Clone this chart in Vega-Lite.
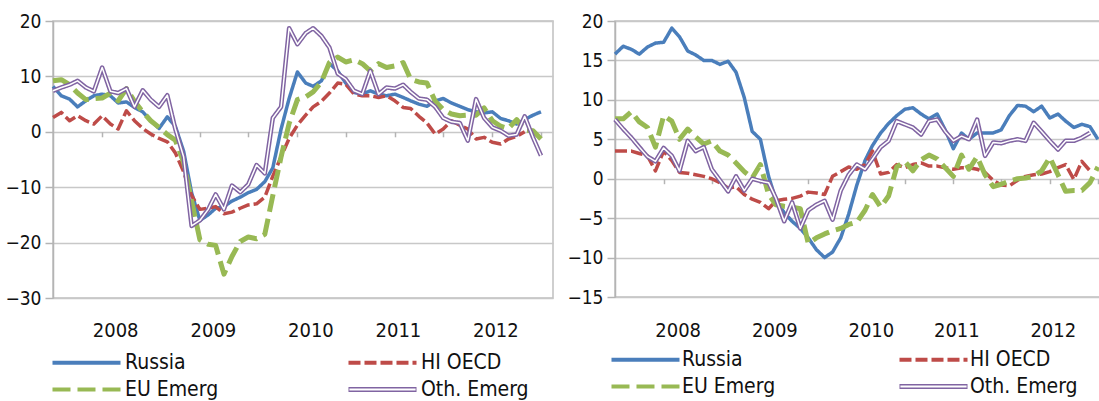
{
  "$schema": "https://vega.github.io/schema/vega-lite/v6.json",
  "padding": {"left": 4, "top": 11, "right": 2, "bottom": 0},
  "background": "white",
  "spacing": 12,
  "config": {
    "font": "DejaVu Sans Condensed",
    "view": {"stroke": "#c0c0c0", "strokeWidth": 1.5},
    "axis": {"title": null, "labelFont": "DejaVu Sans Condensed", "labelColor": "#111111"}
  },
  "datasets": {
    "L": [
      {"d": "2007-07-01", "Russia": 8.2, "HI OECD": 2.6, "EU Emerg": 9.2, "Oth Emerg": 7.4},
      {"d": "2007-08-01", "Russia": 6.5, "HI OECD": 3.5, "EU Emerg": 9.4, "Oth Emerg": 8.0},
      {"d": "2007-09-01", "Russia": 5.9, "HI OECD": 2.0, "EU Emerg": 8.5, "Oth Emerg": 8.5},
      {"d": "2007-10-01", "Russia": 4.5, "HI OECD": 2.9, "EU Emerg": 7.0, "Oth Emerg": 9.2},
      {"d": "2007-11-01", "Russia": 5.6, "HI OECD": 2.0, "EU Emerg": 5.8, "Oth Emerg": 8.0},
      {"d": "2007-12-01", "Russia": 6.5, "HI OECD": 1.4, "EU Emerg": 6.0, "Oth Emerg": 7.3},
      {"d": "2008-01-01", "Russia": 6.8, "HI OECD": 2.9, "EU Emerg": 6.1, "Oth Emerg": 11.6},
      {"d": "2008-02-01", "Russia": 6.5, "HI OECD": 1.4, "EU Emerg": 7.0, "Oth Emerg": 7.3},
      {"d": "2008-03-01", "Russia": 5.2, "HI OECD": 0.5, "EU Emerg": 5.6, "Oth Emerg": 7.0},
      {"d": "2008-04-01", "Russia": 5.4, "HI OECD": 3.8, "EU Emerg": 7.8, "Oth Emerg": 7.8},
      {"d": "2008-05-01", "Russia": 4.4, "HI OECD": 2.0, "EU Emerg": 5.5, "Oth Emerg": 4.5},
      {"d": "2008-06-01", "Russia": 3.6, "HI OECD": 0.6, "EU Emerg": 3.6, "Oth Emerg": 7.5},
      {"d": "2008-07-01", "Russia": 2.0, "HI OECD": -0.4, "EU Emerg": 2.0, "Oth Emerg": 5.8},
      {"d": "2008-08-01", "Russia": 0.6, "HI OECD": -1.2, "EU Emerg": 0.8, "Oth Emerg": 4.5},
      {"d": "2008-09-01", "Russia": 2.7, "HI OECD": -1.8, "EU Emerg": -0.5, "Oth Emerg": 6.6},
      {"d": "2008-10-01", "Russia": 1.0, "HI OECD": -3.8, "EU Emerg": -1.5, "Oth Emerg": 0.5},
      {"d": "2008-11-01", "Russia": -3.5, "HI OECD": -7.2, "EU Emerg": -5.5, "Oth Emerg": -4.5},
      {"d": "2008-12-01", "Russia": -11.0, "HI OECD": -11.5, "EU Emerg": -12.5, "Oth Emerg": -17.0},
      {"d": "2009-01-01", "Russia": -16.0, "HI OECD": -14.0, "EU Emerg": -19.5, "Oth Emerg": -16.0},
      {"d": "2009-02-01", "Russia": -15.0, "HI OECD": -13.8, "EU Emerg": -20.3, "Oth Emerg": -14.0},
      {"d": "2009-03-01", "Russia": -13.8, "HI OECD": -13.5, "EU Emerg": -20.5, "Oth Emerg": -11.3},
      {"d": "2009-04-01", "Russia": -13.5, "HI OECD": -14.8, "EU Emerg": -25.7, "Oth Emerg": -14.0},
      {"d": "2009-05-01", "Russia": -12.5, "HI OECD": -14.5, "EU Emerg": -22.5, "Oth Emerg": -9.7},
      {"d": "2009-06-01", "Russia": -11.8, "HI OECD": -13.8, "EU Emerg": -19.8, "Oth Emerg": -10.9},
      {"d": "2009-07-01", "Russia": -11.0, "HI OECD": -13.2, "EU Emerg": -19.0, "Oth Emerg": -9.5},
      {"d": "2009-08-01", "Russia": -10.4, "HI OECD": -13.0, "EU Emerg": -19.3, "Oth Emerg": -6.0},
      {"d": "2009-09-01", "Russia": -9.0, "HI OECD": -11.8, "EU Emerg": -18.5, "Oth Emerg": -7.5},
      {"d": "2009-10-01", "Russia": -6.5, "HI OECD": -8.0, "EU Emerg": -11.5, "Oth Emerg": 2.5},
      {"d": "2009-11-01", "Russia": 0.5, "HI OECD": -4.5, "EU Emerg": -4.5, "Oth Emerg": 4.5},
      {"d": "2009-12-01", "Russia": 6.0, "HI OECD": -1.2, "EU Emerg": 1.5, "Oth Emerg": 18.7},
      {"d": "2010-01-01", "Russia": 10.8, "HI OECD": 1.2, "EU Emerg": 5.8, "Oth Emerg": 15.8},
      {"d": "2010-02-01", "Russia": 8.8, "HI OECD": 3.0, "EU Emerg": 6.3, "Oth Emerg": 17.8},
      {"d": "2010-03-01", "Russia": 8.2, "HI OECD": 4.5, "EU Emerg": 7.2, "Oth Emerg": 18.7},
      {"d": "2010-04-01", "Russia": 9.2, "HI OECD": 5.5, "EU Emerg": 9.0, "Oth Emerg": 17.3},
      {"d": "2010-05-01", "Russia": 12.3, "HI OECD": 7.0, "EU Emerg": 12.5, "Oth Emerg": 15.2},
      {"d": "2010-06-01", "Russia": 11.0, "HI OECD": 8.8, "EU Emerg": 13.5, "Oth Emerg": 10.5},
      {"d": "2010-07-01", "Russia": 8.8, "HI OECD": 8.6, "EU Emerg": 12.6, "Oth Emerg": 9.5},
      {"d": "2010-08-01", "Russia": 7.1, "HI OECD": 6.8, "EU Emerg": 13.0, "Oth Emerg": 7.4},
      {"d": "2010-09-01", "Russia": 6.8, "HI OECD": 6.5, "EU Emerg": 12.3, "Oth Emerg": 6.8},
      {"d": "2010-10-01", "Russia": 7.4, "HI OECD": 6.5, "EU Emerg": 11.0, "Oth Emerg": 11.0},
      {"d": "2010-11-01", "Russia": 6.8, "HI OECD": 6.2, "EU Emerg": 12.3, "Oth Emerg": 6.8},
      {"d": "2010-12-01", "Russia": 6.5, "HI OECD": 6.5, "EU Emerg": 11.6, "Oth Emerg": 8.0},
      {"d": "2011-01-01", "Russia": 6.8, "HI OECD": 5.6, "EU Emerg": 11.9, "Oth Emerg": 7.8},
      {"d": "2011-02-01", "Russia": 6.2, "HI OECD": 4.4, "EU Emerg": 12.5, "Oth Emerg": 8.5},
      {"d": "2011-03-01", "Russia": 5.6, "HI OECD": 4.2, "EU Emerg": 9.5, "Oth Emerg": 7.2},
      {"d": "2011-04-01", "Russia": 5.0, "HI OECD": 2.8, "EU Emerg": 9.0, "Oth Emerg": 6.0},
      {"d": "2011-05-01", "Russia": 4.6, "HI OECD": 1.6, "EU Emerg": 8.8, "Oth Emerg": 5.8},
      {"d": "2011-06-01", "Russia": 5.6, "HI OECD": -0.4, "EU Emerg": 5.5, "Oth Emerg": 4.5},
      {"d": "2011-07-01", "Russia": 6.0, "HI OECD": 0.5, "EU Emerg": 4.0, "Oth Emerg": 2.5},
      {"d": "2011-08-01", "Russia": 5.2, "HI OECD": 2.0, "EU Emerg": 3.2, "Oth Emerg": 1.8},
      {"d": "2011-09-01", "Russia": 4.6, "HI OECD": 1.2, "EU Emerg": 2.9, "Oth Emerg": 1.6},
      {"d": "2011-10-01", "Russia": 4.0, "HI OECD": 0.5, "EU Emerg": 3.0, "Oth Emerg": -1.6},
      {"d": "2011-11-01", "Russia": 3.6, "HI OECD": -1.3, "EU Emerg": 3.0, "Oth Emerg": 5.9},
      {"d": "2011-12-01", "Russia": 3.4, "HI OECD": -1.0, "EU Emerg": 4.3, "Oth Emerg": 2.5},
      {"d": "2012-01-01", "Russia": 3.6, "HI OECD": -1.9, "EU Emerg": 2.0, "Oth Emerg": 0.8},
      {"d": "2012-02-01", "Russia": 2.4, "HI OECD": -2.2, "EU Emerg": 1.0, "Oth Emerg": 0.2},
      {"d": "2012-03-01", "Russia": 2.0, "HI OECD": -1.3, "EU Emerg": 0.6, "Oth Emerg": -0.7},
      {"d": "2012-04-01", "Russia": 1.4, "HI OECD": -0.8, "EU Emerg": 2.2, "Oth Emerg": -0.5},
      {"d": "2012-05-01", "Russia": 2.2, "HI OECD": 0.0, "EU Emerg": 0.3, "Oth Emerg": 2.8},
      {"d": "2012-06-01", "Russia": 3.0, "EU Emerg": 0.2, "Oth Emerg": -1.0},
      {"d": "2012-07-01", "Russia": 3.6, "EU Emerg": -1.3, "Oth Emerg": -4.3}
    ],
    "R": [
      {"d": "2007-07-01", "Russia": 15.8, "HI OECD": 3.5, "EU Emerg": 7.6, "Oth Emerg": 7.5},
      {"d": "2007-08-01", "Russia": 16.8, "HI OECD": 3.5, "EU Emerg": 7.6, "Oth Emerg": 6.3},
      {"d": "2007-09-01", "Russia": 16.4, "HI OECD": 3.5, "EU Emerg": 8.5, "Oth Emerg": 5.2},
      {"d": "2007-10-01", "Russia": 15.8, "HI OECD": 3.2, "EU Emerg": 7.2, "Oth Emerg": 4.0},
      {"d": "2007-11-01", "Russia": 16.7, "HI OECD": 2.9, "EU Emerg": 6.5, "Oth Emerg": 2.8},
      {"d": "2007-12-01", "Russia": 17.2, "HI OECD": 1.0, "EU Emerg": 4.0, "Oth Emerg": 2.2},
      {"d": "2008-01-01", "Russia": 17.3, "HI OECD": 3.5, "EU Emerg": 8.0, "Oth Emerg": 3.9},
      {"d": "2008-02-01", "Russia": 19.1, "HI OECD": 2.3, "EU Emerg": 7.3, "Oth Emerg": 2.9},
      {"d": "2008-03-01", "Russia": 18.0, "HI OECD": 0.8, "EU Emerg": 5.0, "Oth Emerg": 1.0},
      {"d": "2008-04-01", "Russia": 16.2, "HI OECD": 0.7, "EU Emerg": 6.3, "Oth Emerg": 4.8},
      {"d": "2008-05-01", "Russia": 15.7, "HI OECD": 0.5, "EU Emerg": 5.3, "Oth Emerg": 3.5},
      {"d": "2008-06-01", "Russia": 15.0, "HI OECD": 0.3, "EU Emerg": 4.4, "Oth Emerg": 4.0},
      {"d": "2008-07-01", "Russia": 15.0, "HI OECD": 0.0, "EU Emerg": 4.8, "Oth Emerg": 1.2},
      {"d": "2008-08-01", "Russia": 14.5, "HI OECD": -0.5, "EU Emerg": 3.5, "Oth Emerg": -0.2},
      {"d": "2008-09-01", "Russia": 14.9, "HI OECD": -1.2, "EU Emerg": 3.0, "Oth Emerg": -1.6},
      {"d": "2008-10-01", "Russia": 13.5, "HI OECD": -1.0, "EU Emerg": 2.0, "Oth Emerg": 0.3},
      {"d": "2008-11-01", "Russia": 10.3, "HI OECD": -2.0, "EU Emerg": 0.9, "Oth Emerg": -1.5},
      {"d": "2008-12-01", "Russia": 6.0, "HI OECD": -2.6, "EU Emerg": 0.1, "Oth Emerg": 0.0},
      {"d": "2009-01-01", "Russia": 5.0, "HI OECD": -3.0, "EU Emerg": 1.8, "Oth Emerg": -0.3},
      {"d": "2009-02-01", "Russia": 0.3, "HI OECD": -3.8, "EU Emerg": -2.0, "Oth Emerg": -0.5},
      {"d": "2009-03-01", "Russia": -2.7, "HI OECD": -2.8, "EU Emerg": -3.3, "Oth Emerg": -2.5},
      {"d": "2009-04-01", "Russia": -4.3, "HI OECD": -2.6, "EU Emerg": -3.5, "Oth Emerg": -5.4},
      {"d": "2009-05-01", "Russia": -5.4, "HI OECD": -2.5, "EU Emerg": -3.6, "Oth Emerg": -3.0},
      {"d": "2009-06-01", "Russia": -6.3, "HI OECD": -2.2, "EU Emerg": -3.8, "Oth Emerg": -6.3},
      {"d": "2009-07-01", "Russia": -7.5, "HI OECD": -1.7, "EU Emerg": -8.2, "Oth Emerg": -4.0},
      {"d": "2009-08-01", "Russia": -9.0, "HI OECD": -1.8, "EU Emerg": -7.5, "Oth Emerg": -3.3},
      {"d": "2009-09-01", "Russia": -10.0, "HI OECD": -2.0, "EU Emerg": -7.0, "Oth Emerg": -2.8},
      {"d": "2009-10-01", "Russia": -9.3, "HI OECD": 0.3, "EU Emerg": -6.6, "Oth Emerg": -5.2},
      {"d": "2009-11-01", "Russia": -7.5, "HI OECD": 0.9, "EU Emerg": -6.3, "Oth Emerg": -1.5},
      {"d": "2009-12-01", "Russia": -4.5, "HI OECD": 1.5, "EU Emerg": -5.8, "Oth Emerg": 0.5},
      {"d": "2010-01-01", "Russia": -0.8, "HI OECD": 1.2, "EU Emerg": -5.5, "Oth Emerg": 1.8},
      {"d": "2010-02-01", "Russia": 2.3, "HI OECD": 1.8, "EU Emerg": -4.0, "Oth Emerg": 1.2},
      {"d": "2010-03-01", "Russia": 4.2, "HI OECD": 3.5, "EU Emerg": -2.0, "Oth Emerg": 2.5},
      {"d": "2010-04-01", "Russia": 5.8, "HI OECD": 0.6, "EU Emerg": -3.6, "Oth Emerg": 4.0},
      {"d": "2010-05-01", "Russia": 7.0, "HI OECD": 0.8, "EU Emerg": -2.2, "Oth Emerg": 4.8},
      {"d": "2010-06-01", "Russia": 8.0, "HI OECD": 1.8, "EU Emerg": 1.5, "Oth Emerg": 7.3},
      {"d": "2010-07-01", "Russia": 8.8, "HI OECD": 1.4, "EU Emerg": 2.2, "Oth Emerg": 6.9},
      {"d": "2010-08-01", "Russia": 9.0, "HI OECD": 1.8, "EU Emerg": 1.0, "Oth Emerg": 6.5},
      {"d": "2010-09-01", "Russia": 8.2, "HI OECD": 2.0, "EU Emerg": 2.4, "Oth Emerg": 5.6},
      {"d": "2010-10-01", "Russia": 7.6, "HI OECD": 1.6, "EU Emerg": 3.0, "Oth Emerg": 7.3},
      {"d": "2010-11-01", "Russia": 8.2, "HI OECD": 1.6, "EU Emerg": 2.5, "Oth Emerg": 7.5},
      {"d": "2010-12-01", "Russia": 6.2, "HI OECD": 1.4, "EU Emerg": 1.4, "Oth Emerg": 6.0},
      {"d": "2011-01-01", "Russia": 3.8, "HI OECD": 1.2, "EU Emerg": 0.3, "Oth Emerg": 4.8},
      {"d": "2011-02-01", "Russia": 5.8, "HI OECD": 1.4, "EU Emerg": 3.0, "Oth Emerg": 5.4},
      {"d": "2011-03-01", "Russia": 5.0, "HI OECD": 1.4, "EU Emerg": 1.2, "Oth Emerg": 5.0},
      {"d": "2011-04-01", "Russia": 5.8, "HI OECD": 1.2, "EU Emerg": 2.8, "Oth Emerg": 7.5},
      {"d": "2011-05-01", "Russia": 5.8, "HI OECD": 0.8, "EU Emerg": 0.5, "Oth Emerg": 2.9},
      {"d": "2011-06-01", "Russia": 5.8, "HI OECD": -0.2, "EU Emerg": -1.0, "Oth Emerg": 4.6},
      {"d": "2011-07-01", "Russia": 6.2, "HI OECD": -0.8, "EU Emerg": -0.7, "Oth Emerg": 4.5},
      {"d": "2011-08-01", "Russia": 8.0, "HI OECD": -0.9, "EU Emerg": -0.3, "Oth Emerg": 4.8},
      {"d": "2011-09-01", "Russia": 9.3, "HI OECD": -0.2, "EU Emerg": 0.0, "Oth Emerg": 5.0},
      {"d": "2011-10-01", "Russia": 9.2, "HI OECD": 0.3, "EU Emerg": 0.1, "Oth Emerg": 4.8},
      {"d": "2011-11-01", "Russia": 8.5, "HI OECD": 0.5, "EU Emerg": 0.3, "Oth Emerg": 7.1},
      {"d": "2011-12-01", "Russia": 9.2, "HI OECD": 0.6, "EU Emerg": 1.0, "Oth Emerg": 6.0},
      {"d": "2012-01-01", "Russia": 7.7, "HI OECD": 0.9, "EU Emerg": 2.7, "Oth Emerg": 4.8},
      {"d": "2012-02-01", "Russia": 8.2, "HI OECD": 1.4, "EU Emerg": 0.5, "Oth Emerg": 3.7},
      {"d": "2012-03-01", "Russia": 7.3, "HI OECD": 1.8, "EU Emerg": -1.6, "Oth Emerg": 4.8},
      {"d": "2012-04-01", "Russia": 6.5, "HI OECD": -0.1, "EU Emerg": -1.5, "Oth Emerg": 4.8},
      {"d": "2012-05-01", "Russia": 6.9, "HI OECD": 2.2, "EU Emerg": -1.5, "Oth Emerg": 5.2},
      {"d": "2012-06-01", "Russia": 6.6, "HI OECD": 1.0, "EU Emerg": -0.5, "Oth Emerg": 5.8},
      {"d": "2012-07-01", "Russia": 5.0, "EU Emerg": 1.5}
    ]
  },
  "hconcat": [
    {
      "width": 500,
      "height": 277,
      "data": {"name": "L"},
      "transform": [
        {"fold": ["Russia", "HI OECD", "EU Emerg", "Oth Emerg"], "as": ["s", "v"]},
        {"filter": "isValid(datum.v)"}
      ],
      "encoding": {
        "y": {
          "field": "v", "type": "quantitative",
          "scale": {"domain": [-30, 20], "nice": false, "zero": false},
          "axis": {
            "values": [-30, -20, -10, 0, 10, 20], "grid": true, "gridColor": "#c8c8c8", "gridWidth": 1.5,
            "domain": true, "domainColor": "#b4b4b4", "domainWidth": 1.5,
            "ticks": true, "tickSize": 8, "tickWidth": 1.5, "tickColor": "#b4b4b4",
            "labelFontSize": 19, "labelPadding": 4
          }
        }
      },
      "layer": [
        {
          "transform": [{"filter": "datum.s === 'Russia'"}],
          "mark": {"type": "line", "strokeWidth": 3.5, "strokeJoin": "round", "strokeCap": "butt"},
          "encoding": {
            "x": {
              "field": "d", "type": "temporal",
              "scale": {"type": "utc", "nice": false, "domain": [{"year": 2007, "month": 7, "date": 1, "utc": true}, {"year": 2012, "month": 8, "date": 15, "utc": true}]},
              "axis": {
                "orient": "bottom", "offset": -166.2, "labels": false, "grid": false, "domain": false,
                "ticks": true, "tickSize": 5, "tickWidth": 1.5, "tickColor": "#b4b4b4",
                "values": [
                  {"year": 2008, "month": 1, "date": 1, "utc": true}, {"year": 2008, "month": 7, "date": 1, "utc": true},
                  {"year": 2009, "month": 1, "date": 1, "utc": true}, {"year": 2009, "month": 7, "date": 1, "utc": true},
                  {"year": 2010, "month": 1, "date": 1, "utc": true}, {"year": 2010, "month": 7, "date": 1, "utc": true},
                  {"year": 2011, "month": 1, "date": 1, "utc": true}, {"year": 2011, "month": 7, "date": 1, "utc": true},
                  {"year": 2012, "month": 1, "date": 1, "utc": true}, {"year": 2012, "month": 7, "date": 1, "utc": true}
                ]
              }
            },
            "color": {
              "field": "s", "type": "nominal",
              "scale": {"domain": ["Russia", "EU Emerg", "HI OECD", "Oth Emerg"], "range": ["#4a7ebb", "#98b954", "#be4b48", "#8064a2"]},
              "legend": {
                "orient": "none", "legendX": 20, "legendY": 328, "columns": 2, "title": null, "padding": 0,
                "symbolType": "M-3,0H3", "symbolSize": 514, "symbolStrokeWidth": 4,
                "labelOffset": 25, "columnPadding": 121, "rowPadding": 3,
                "labelFont": "DejaVu Sans Condensed", "labelFontSize": 21, "labelColor": "#111111", "labelLimit": 0,
                "labelExpr": "datum.label === 'Oth Emerg' ? 'Oth. Emerg' : datum.label",
                "encode": {
                  "symbols": {
                    "update": {
                      "shape": {"signal": "datum.value === 'Oth Emerg' ? 'M-3,-0.22H3V0.22H-3Z M-2.92,-0.09V0.09H2.92V-0.09Z' : 'M-3,0H3'"},
                      "fill": {"signal": "datum.value === 'Oth Emerg' ? '#8064a2' : 'transparent'"},
                      "strokeOpacity": {"signal": "datum.value === 'Oth Emerg' ? 0 : 1"}
                    }
                  }
                }
              }
            },
            "strokeDash": {
              "field": "s", "type": "nominal",
              "scale": {"domain": ["Russia", "EU Emerg", "HI OECD", "Oth Emerg"], "range": [[1, 0], [18, 7], [12, 4], [1, 0]]}
            }
          }
        },
        {
          "transform": [{"filter": "datum.s === 'HI OECD'"}],
          "mark": {"type": "line", "strokeWidth": 3.5, "strokeJoin": "round", "strokeCap": "butt"},
          "encoding": {
            "x": {"field": "d", "type": "temporal", "axis": null},
            "color": {"field": "s", "type": "nominal"},
            "strokeDash": {"field": "s", "type": "nominal"}
          }
        },
        {
          "transform": [{"filter": "datum.s === 'EU Emerg'"}],
          "mark": {"type": "line", "strokeWidth": 5, "strokeJoin": "round", "strokeCap": "butt"},
          "encoding": {
            "x": {"field": "d", "type": "temporal", "axis": null},
            "color": {"field": "s", "type": "nominal"},
            "strokeDash": {"field": "s", "type": "nominal"}
          }
        },
        {
          "transform": [{"filter": "datum.s === 'Oth Emerg'"}],
          "mark": {"type": "line", "strokeWidth": 4.5, "strokeJoin": "round", "strokeCap": "butt"},
          "encoding": {
            "x": {"field": "d", "type": "temporal", "axis": null},
            "color": {"field": "s", "type": "nominal"},
            "strokeDash": {"field": "s", "type": "nominal"}
          }
        },
        {
          "transform": [{"filter": "datum.s === 'Oth Emerg'"}],
          "mark": {"type": "line", "strokeWidth": 1.5, "color": "#ffffff", "strokeJoin": "round"},
          "encoding": {
            "x": {
              "field": "d", "type": "temporal",
              "axis": {
                "orient": "bottom", "format": "%Y", "grid": false, "domain": false, "ticks": false, "tickSize": 0,
                "labelPadding": 22, "labelFontSize": 20, "labelFlush": false, "labelOverlap": false,
                "labelOffset": {"condition": {"test": "utcyear(datum.value) >= 2011", "value": 3}, "value": 13},
                "values": [
                  {"year": 2008, "month": 1, "date": 1, "utc": true}, {"year": 2009, "month": 1, "date": 1, "utc": true},
                  {"year": 2010, "month": 1, "date": 1, "utc": true}, {"year": 2011, "month": 1, "date": 1, "utc": true},
                  {"year": 2012, "month": 1, "date": 1, "utc": true}
                ]
              }
            }
          }
        }
      ],
      "resolve": {"axis": {"x": "independent"}}
    },
    {
      "width": 489,
      "height": 276,
      "data": {"name": "R"},
      "transform": [
        {"fold": ["Russia", "HI OECD", "EU Emerg", "Oth Emerg"], "as": ["s", "v"]},
        {"filter": "isValid(datum.v)"}
      ],
      "encoding": {
        "y": {
          "field": "v", "type": "quantitative",
          "scale": {"domain": [-15, 20], "nice": false, "zero": false},
          "axis": {
            "values": [-15, -10, -5, 0, 5, 10, 15, 20], "grid": true, "gridColor": "#c8c8c8", "gridWidth": 1.5,
            "domain": true, "domainColor": "#b4b4b4", "domainWidth": 1.5,
            "ticks": true, "tickSize": 8, "tickWidth": 1.5, "tickColor": "#b4b4b4",
            "labelFontSize": 19, "labelPadding": 4
          }
        }
      },
      "layer": [
        {
          "transform": [{"filter": "datum.s === 'Russia'"}],
          "mark": {"type": "line", "strokeWidth": 3.5, "strokeJoin": "round", "strokeCap": "butt"},
          "encoding": {
            "x": {
              "field": "d", "type": "temporal",
              "scale": {"type": "utc", "nice": false, "domain": [{"year": 2007, "month": 7, "date": 1, "utc": true}, {"year": 2012, "month": 7, "date": 24, "utc": true}]},
              "axis": {
                "orient": "bottom", "offset": -118.3, "labels": false, "grid": false, "domain": false,
                "ticks": true, "tickSize": 5, "tickWidth": 1.5, "tickColor": "#b4b4b4",
                "values": [
                  {"year": 2008, "month": 1, "date": 1, "utc": true}, {"year": 2008, "month": 7, "date": 1, "utc": true},
                  {"year": 2009, "month": 1, "date": 1, "utc": true}, {"year": 2009, "month": 7, "date": 1, "utc": true},
                  {"year": 2010, "month": 1, "date": 1, "utc": true}, {"year": 2010, "month": 7, "date": 1, "utc": true},
                  {"year": 2011, "month": 1, "date": 1, "utc": true}, {"year": 2011, "month": 7, "date": 1, "utc": true},
                  {"year": 2012, "month": 1, "date": 1, "utc": true}, {"year": 2012, "month": 7, "date": 1, "utc": true}
                ]
              }
            },
            "color": {
              "field": "s", "type": "nominal",
              "scale": {"domain": ["Russia", "EU Emerg", "HI OECD", "Oth Emerg"], "range": ["#4a7ebb", "#98b954", "#be4b48", "#8064a2"]},
              "legend": {
                "orient": "none", "legendX": 17, "legendY": 325, "columns": 2, "title": null, "padding": 0,
                "symbolType": "M-3,0H3", "symbolSize": 514, "symbolStrokeWidth": 4,
                "labelOffset": 23, "columnPadding": 115, "rowPadding": 3,
                "labelFont": "DejaVu Sans Condensed", "labelFontSize": 21, "labelColor": "#111111", "labelLimit": 0,
                "labelExpr": "datum.label === 'Oth Emerg' ? 'Oth. Emerg' : datum.label",
                "encode": {
                  "symbols": {
                    "update": {
                      "shape": {"signal": "datum.value === 'Oth Emerg' ? 'M-3,-0.22H3V0.22H-3Z M-2.92,-0.09V0.09H2.92V-0.09Z' : 'M-3,0H3'"},
                      "fill": {"signal": "datum.value === 'Oth Emerg' ? '#8064a2' : 'transparent'"},
                      "strokeOpacity": {"signal": "datum.value === 'Oth Emerg' ? 0 : 1"}
                    }
                  }
                }
              }
            },
            "strokeDash": {
              "field": "s", "type": "nominal",
              "scale": {"domain": ["Russia", "EU Emerg", "HI OECD", "Oth Emerg"], "range": [[1, 0], [18, 7], [12, 4], [1, 0]]}
            }
          }
        },
        {
          "transform": [{"filter": "datum.s === 'HI OECD'"}],
          "mark": {"type": "line", "strokeWidth": 3.5, "strokeJoin": "round", "strokeCap": "butt"},
          "encoding": {
            "x": {"field": "d", "type": "temporal", "axis": null},
            "color": {"field": "s", "type": "nominal"},
            "strokeDash": {"field": "s", "type": "nominal"}
          }
        },
        {
          "transform": [{"filter": "datum.s === 'EU Emerg'"}],
          "mark": {"type": "line", "strokeWidth": 5, "strokeJoin": "round", "strokeCap": "butt"},
          "encoding": {
            "x": {"field": "d", "type": "temporal", "axis": null},
            "color": {"field": "s", "type": "nominal"},
            "strokeDash": {"field": "s", "type": "nominal"}
          }
        },
        {
          "transform": [{"filter": "datum.s === 'Oth Emerg'"}],
          "mark": {"type": "line", "strokeWidth": 4.5, "strokeJoin": "round", "strokeCap": "butt"},
          "encoding": {
            "x": {"field": "d", "type": "temporal", "axis": null},
            "color": {"field": "s", "type": "nominal"},
            "strokeDash": {"field": "s", "type": "nominal"}
          }
        },
        {
          "transform": [{"filter": "datum.s === 'Oth Emerg'"}],
          "mark": {"type": "line", "strokeWidth": 1.5, "color": "#ffffff", "strokeJoin": "round"},
          "encoding": {
            "x": {
              "field": "d", "type": "temporal",
              "axis": {
                "orient": "bottom", "format": "%Y", "grid": false, "domain": false, "ticks": false, "tickSize": 0,
                "labelPadding": 23, "labelFontSize": 20, "labelFlush": false, "labelOverlap": false,
                "labelOffset": {"condition": {"test": "utcyear(datum.value) >= 2011", "value": 3}, "value": 14},
                "values": [
                  {"year": 2008, "month": 1, "date": 1, "utc": true}, {"year": 2009, "month": 1, "date": 1, "utc": true},
                  {"year": 2010, "month": 1, "date": 1, "utc": true}, {"year": 2011, "month": 1, "date": 1, "utc": true},
                  {"year": 2012, "month": 1, "date": 1, "utc": true}
                ]
              }
            }
          }
        }
      ],
      "resolve": {"axis": {"x": "independent"}}
    }
  ],
  "resolve": {
    "scale": {"color": "independent", "strokeDash": "independent"},
    "legend": {"color": "independent", "strokeDash": "independent"}
  }
}
